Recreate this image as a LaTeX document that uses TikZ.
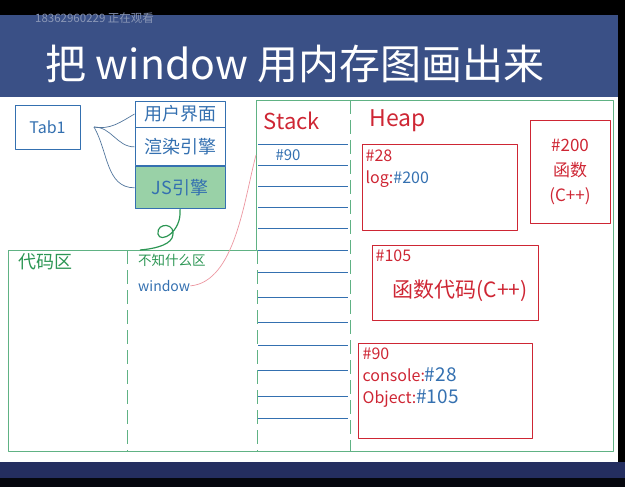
\documentclass[tikz,border=0pt]{standalone}
\usepackage{fontspec}
\setmainfont{Noto Sans CJK SC}
\usetikzlibrary{positioning}
\definecolor{banner}{RGB}{58,80,134}
\definecolor{navy}{RGB}{36,46,96}
\definecolor{inkblue}{RGB}{52,112,176}
\definecolor{inkred}{RGB}{206,38,52}
\definecolor{inkgreen}{RGB}{44,150,84}
\definecolor{framegreen}{RGB}{96,178,132}
\definecolor{jsgreen}{RGB}{110,190,130}
\definecolor{pinkline}{RGB}{236,150,160}
\newcommand{\fs}[1]{\fontsize{#1}{#1}\selectfont}

\begin{document}
\begin{tikzpicture}[x=1pt,y=-1pt,line join=round,
  bluebox/.style={draw=inkblue,line width=0.9pt,inner sep=0pt,text=inkblue,font=\fs{18}},
  heapbox/.style={draw=inkred,line width=1pt,inner sep=0pt},
  redtxt/.style={text=inkred,inner sep=0pt,font=\fs{16},align=left},
  greentxt/.style={text=inkgreen,inner sep=0pt,font=\fs{18}},
  frame/.style={draw=framegreen,line width=0.8pt},
  split/.style={frame,dash pattern=on 14pt off 6pt},
  row/.style={draw=inkblue,line width=0.8pt},
  fan/.style={draw=inkblue!60!gray,line width=0.7pt}]
  \useasboundingbox (0,0) rectangle (625,487);
  % slide background
  \fill[black] (0,0) rectangle (625,15);
  \fill[banner] (0,15) rectangle (625,97);
  \fill[navy] (0,462) rectangle (625,478);
  \fill[black!85!navy] (0,478) rectangle (625,487);
  \fill[black] (618,0) rectangle (625,462);
  \node[anchor=west,text=banner!60!white,inner sep=0pt,font=\fs{11.5}] (viewer) at (35,18) {18362960229 正在观看};
  \node[text=white,inner sep=0pt,font=\fs{41}] (title) at (295,64) {把 window 用内存图画出来};

  % tab and its parts
  \node[bluebox,minimum width=65pt,minimum height=44pt,font=\fs{16}] (tab) at (47.5,127) {Tab1};
  \node[bluebox,minimum width=90pt,minimum height=26pt] (ui) at (180,114) {用户界面};
  \node[bluebox,minimum width=90pt,minimum height=38pt,below=0pt of ui] (render) {渲染引擎};
  \node[bluebox,minimum width=90pt,minimum height=42pt,below=0pt of render,
    fill=jsgreen,fill opacity=0.7,text opacity=1] (js) {JS引擎};
  \coordinate (fork) at (94,127);
  \draw[fan] (fork) to[out=-10,in=210] (ui.west);
  \draw[fan] (fork) to[out=0,in=180] (render.west);
  \draw[fan] (fork) to[out=-60,in=180] (js.west);

  % memory areas
  \draw[frame] (8,250) -- (256,250) -- (256,100) -- (613,100) -- (613,451) -- (8,451) -- cycle;
  \draw[split] (127,250) -- (127,451);
  \draw[split] (257,250) -- (257,451);
  \draw[split] (350,100) -- (350,451);
  \node[greentxt,anchor=north west] (code) at (18,253) {代码区};
  \node[greentxt,anchor=north west,font=\fs{13.5}] (misc) at (138,254) {不知什么区};
  \node[anchor=north west,text=inkblue,inner sep=0pt,font=\fs{14}] (win) at (138,280) {window};
  \coordinate (jsdrop) at (140,250);
  \draw[inkgreen,line width=1.2pt] (js.south) .. controls (182,232) and (160,244) .. (158,234)
    .. controls (156,222) and (178,222) .. (172,238) .. controls (168,246) and (152,249) .. (jsdrop);

  % stack
  \node[text=inkred,inner sep=0pt,font=\fs{22}] (stack) at (292,121) {Stack};
  \foreach \y in {144,165,186,207,228,250,272,297,322,345,370,396,418}
    \draw[row] (258,\y) -- (348,\y);
  \node[text=inkblue,inner sep=0pt,font=\fs{15}] (s90) at (288,155) {\#90};
  \coordinate (slot) at (256,155);
  \draw[pinkline,line width=0.7pt] (win.east) .. controls (235,282) and (244,200) .. (slot);

  % heap
  \node[text=inkred,inner sep=0pt,font=\fs{23}] (heap) at (398,121) {Heap};
  \node[heapbox,minimum width=155pt,minimum height=85pt] (h28) at (439.5,187.5) {};
  \node[redtxt,below right=5pt and 4pt of h28.north west] (t28)
    {\#28\\[6pt]log:\textcolor{inkblue}{\#200}};
  \node[heapbox,minimum width=80pt,minimum height=102pt] (h200) at (570,172) {};
  \node[redtxt,align=center,font=\fs{17}] (t200) at (h200) {\#200\\[8pt]函数\\[8pt](C++)};
  \node[heapbox,minimum width=166pt,minimum height=75pt] (h105) at (455,282.5) {};
  \node[redtxt,below right=5pt and 4pt of h105.north west] (t105) {\#105};
  \node[redtxt,font=\fs{21}] (code105) at (460,291) {函数代码(C++)};
  \node[heapbox,minimum width=174pt,minimum height=95pt] (h90) at (445,390.5) {};
  \node[redtxt,below right=5pt and 5pt of h90.north west] (t90)
    {\#90\\[6pt]console:\textcolor{inkblue}{\fs{19}\#28}\\[6pt]Object:\textcolor{inkblue}{\fs{19}\#105}};
\end{tikzpicture}
\end{document}
